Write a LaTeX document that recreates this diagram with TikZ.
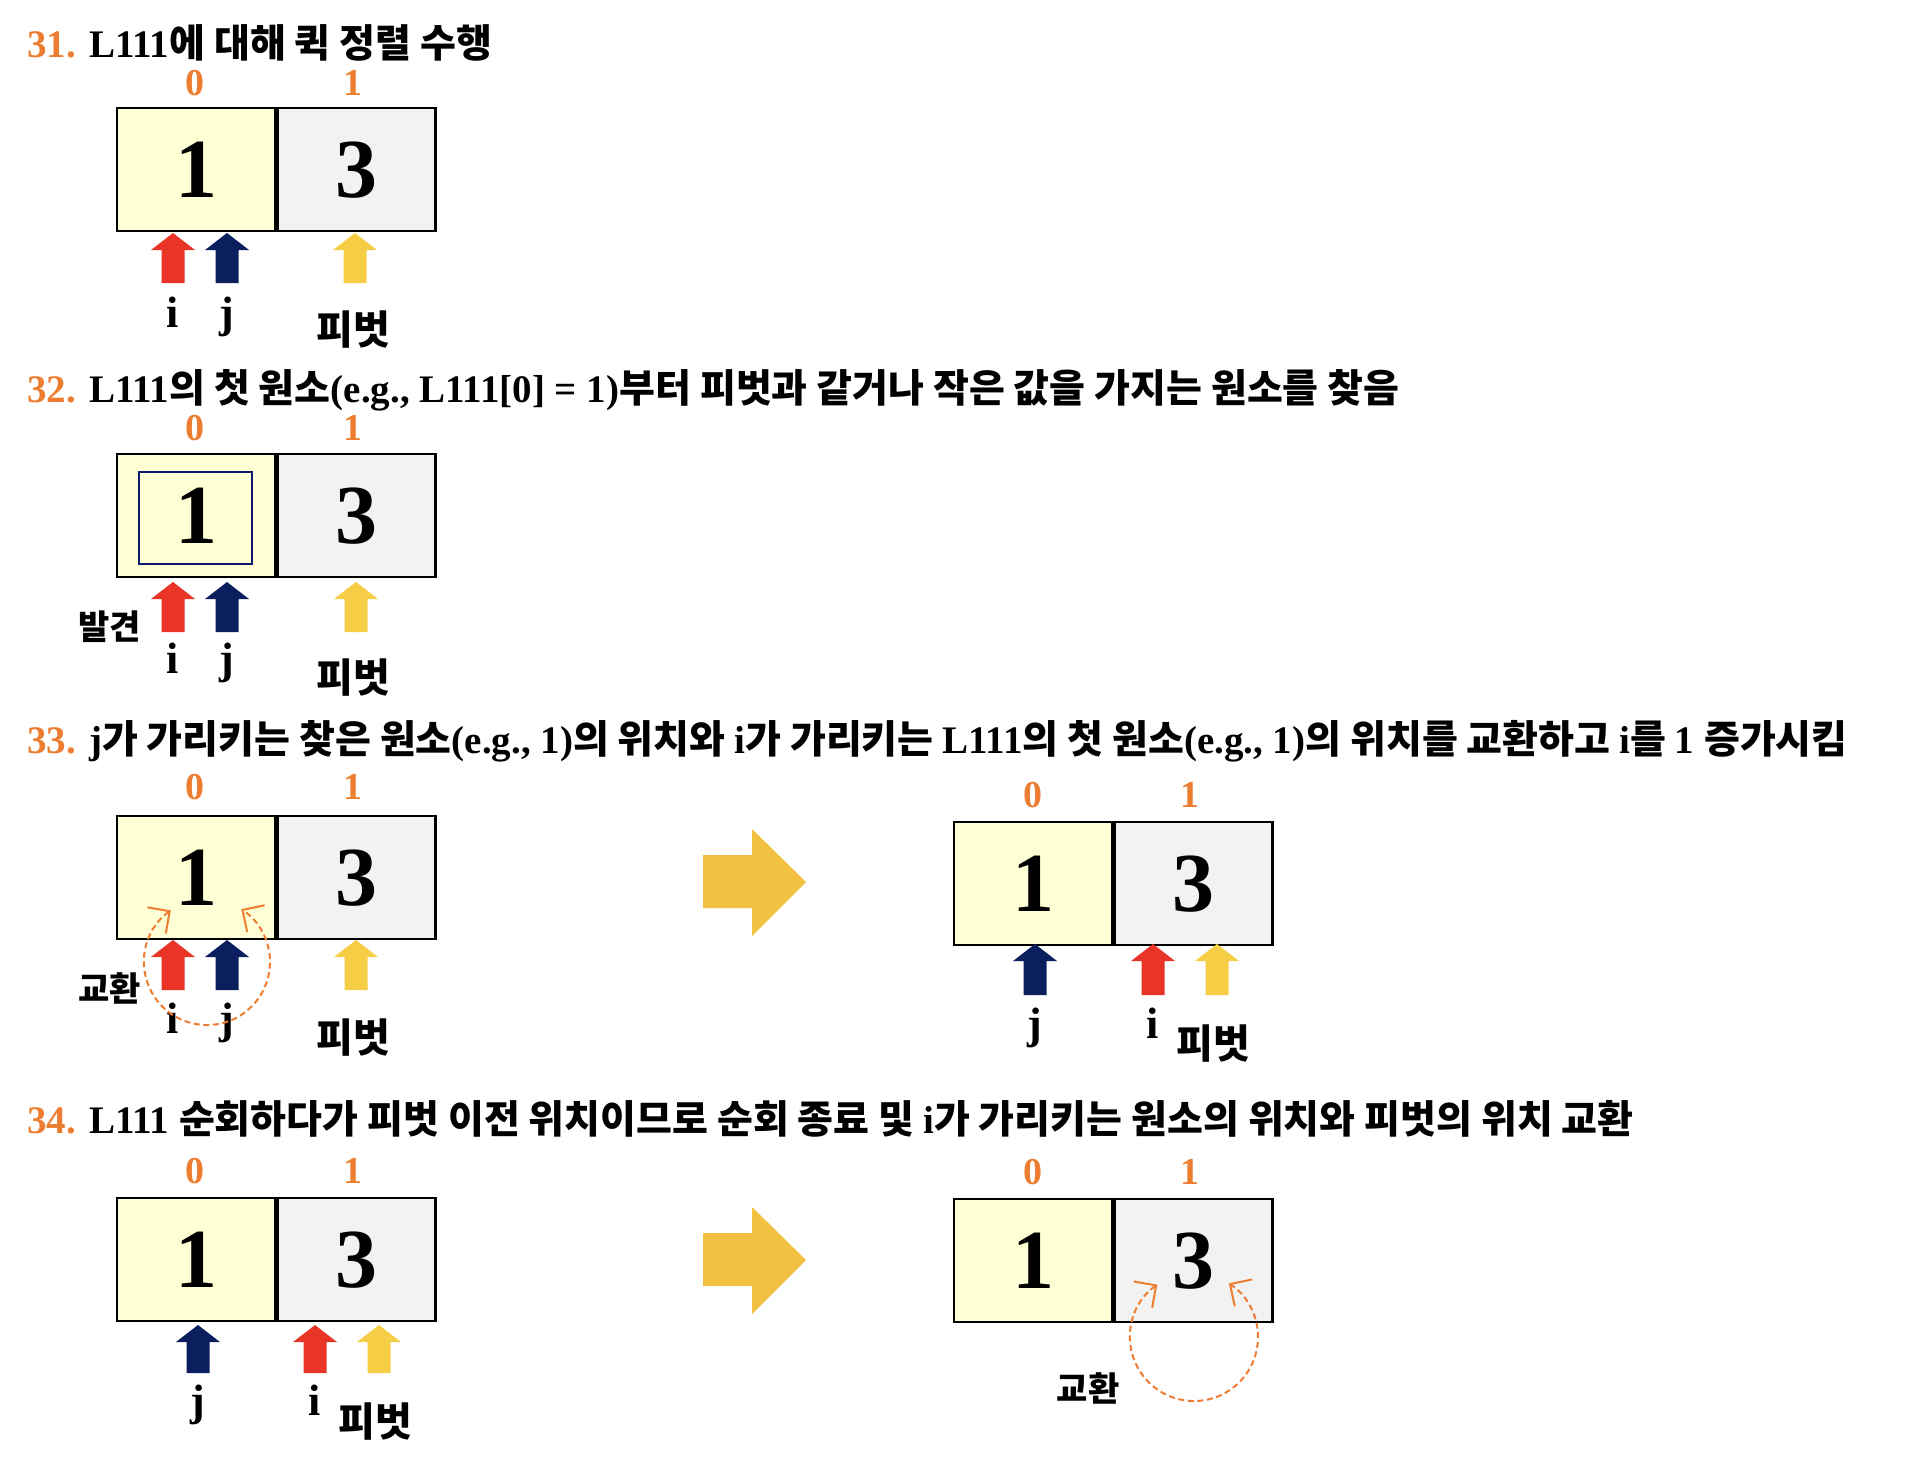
\documentclass[tikz,border=0pt]{standalone}
\usepackage{fontspec}
\setmainfont{Liberation Serif}
\newfontfamily\kr{Noto Sans CJK KR}
\usetikzlibrary{arrows.meta,calc}
\definecolor{orng}{HTML}{ED7D31}
\definecolor{cellyel}{HTML}{FFFFD6}
\definecolor{cellgray}{HTML}{F2F2F2}
\definecolor{ptrred}{HTML}{E83527}
\definecolor{ptrnavy}{HTML}{0B1F5E}
\definecolor{ptryel}{HTML}{F6CE46}
\definecolor{bigyel}{HTML}{F2C141}
\definecolor{boxnavy}{HTML}{0B1A6E}
\newcommand\K[1]{{\kr #1}}
\newcommand\UpArr[4]{\fill[#1] (#2,#3) -- (#2+22,#3+17) -- (#2+11.5,#3+17) -- (#2+11.5,#4) -- (#2-11.5,#4) -- (#2-11.5,#3+17) -- (#2-22,#3+17) -- cycle;}
\newcommand\BigArr[1]{\fill[bigyel] (703,#1-27) -- (752,#1-27) -- (752,#1-53) -- (806,#1) -- (752,#1+54) -- (752,#1+26) -- (703,#1+26) -- cycle;}
\tikzset{
  title/.style={anchor=base west, inner sep=0pt, font=\fontsize{19.5}{22}\selectfont\bfseries},
  cellY/.style={draw=black, line width=1.2pt, fill=cellyel, minimum width=79pt, minimum height=61.5pt, inner sep=0pt, font=\fontsize{42}{42}\selectfont\bfseries},
  cellG/.style={cellY, fill=cellgray},
  idx/.style={inner sep=0pt, text=orng, font=\fontsize{19}{19}\selectfont\bfseries},
  ptr/.style={anchor=base, inner sep=0pt, font=\fontsize{22}{22}\selectfont\bfseries},
  piv/.style={inner sep=0pt, font=\fontsize{20}{20}\selectfont\bfseries\kr},
  note/.style={inner sep=0pt, font=\fontsize{17}{17}\selectfont\bfseries\kr},
  swaparc/.style={draw=orng, line width=1pt, dash pattern=on 3pt off 1.8pt, {Straight Barb[length=8pt,width=16pt]}-{Straight Barb[length=8pt,width=16pt]}},
}
\begin{document}
\begin{tikzpicture}[x=0.5pt,y=-0.5pt]
\fill[white] (0,0) rectangle (1928,1464);
\useasboundingbox (0,0) rectangle (1928,1464);

% ---------- 31 ----------
\node[title] (t31) at (27,57) {\textcolor{orng}{31.} L111\K{에 대해 퀵 정렬 수행}};
\node[cellY, anchor=north west] (a31) at (116,107) {1};
\node[cellG, anchor=west] (b31) at (a31.east) {3};
\node[idx] (x31a) at (195,83) {0};
\node[idx] (x31b) at (353,83) {1};
\UpArr{ptrred}{173}{233}{283}
\UpArr{ptrnavy}{227}{233}{283}
\UpArr{ptryel}{355}{233}{283}
\node[ptr] (i31) at (173,327) {i};
\node[ptr] (j31) at (227,327) {j};
\node[piv] (p31) at (353,330) {피벗};

% ---------- 32 ----------
\node[title] (t32) at (27,402) {\textcolor{orng}{32.} L111\K{의 첫 원소}(e.g., L111[0] = 1)\K{부터 피벗과 같거나 작은 값을 가지는 원소를 찾음}};
\node[cellY, anchor=north west] (a32) at (116,453) {1};
\node[cellG, anchor=west] (b32) at (a32.east) {3};
\node[draw=boxnavy, line width=1.2pt, minimum width=56.5pt, minimum height=46pt, inner sep=0pt] (f32) at (195.5,518) {};
\node[idx] (x32a) at (195,428) {0};
\node[idx] (x32b) at (353,428) {1};
\UpArr{ptrred}{173}{582}{632}
\UpArr{ptrnavy}{227}{582}{632}
\UpArr{ptryel}{356}{582}{632}
\node[ptr] (i32) at (173,673) {i};
\node[ptr] (j32) at (227,673) {j};
\node[piv] (p32) at (353,678) {피벗};
\node[note] (n32) at (110,627) {발견};

% ---------- 33 ----------
\node[title] (t33) at (27,753) {\textcolor{orng}{33.} j\K{가 가리키는 찾은 원소}(e.g., 1)\K{의 위치와 }i\K{가 가리키는 }L111\K{의 첫 원소}(e.g., 1)\K{의 위치를 교환하고 }i\K{를 }1 \K{증가시킴}};
\node[cellY, anchor=north west] (a33) at (116,815) {1};
\node[cellG, anchor=west] (b33) at (a33.east) {3};
\node[idx] (x33a) at (195,787) {0};
\node[idx] (x33b) at (353,787) {1};
\UpArr{ptrred}{173}{940}{990}
\UpArr{ptrnavy}{227}{940}{990}
\UpArr{ptryel}{356}{940}{990}
\node[ptr] (i33) at (173,1033) {i};
\node[ptr] (j33) at (227,1033) {j};
\node[piv] (p33) at (353,1038) {피벗};
\node[note] (n33) at (110,988) {교환};
\coordinate (c33) at (207,962);
\draw[swaparc] ($(c33)+(235:63)$) arc[start angle=235, end angle=-57, radius=63];

\BigArr{882}

\node[cellY, anchor=north west] (a33r) at (953,821) {1};
\node[cellG, anchor=west] (b33r) at (a33r.east) {3};
\node[idx] (x33ra) at (1033,795) {0};
\node[idx] (x33rb) at (1190,795) {1};
\UpArr{ptrnavy}{1035}{944}{995}
\UpArr{ptrred}{1153}{944}{995}
\UpArr{ptryel}{1217}{944}{995}
\node[ptr] (j33r) at (1035,1038) {j};
\node[ptr] (i33r) at (1153,1038) {i};
\node[piv] (p33r) at (1213,1044) {피벗};

% ---------- 34 ----------
\node[title] (t34) at (27,1133) {\textcolor{orng}{34.} L111 \K{순회하다가 피벗 이전 위치이므로 순회 종료 및 }i\K{가 가리키는 원소의 위치와 피벗의 위치 교환}};
\node[cellY, anchor=north west] (a34) at (116,1197) {1};
\node[cellG, anchor=west] (b34) at (a34.east) {3};
\node[idx] (x34a) at (195,1171) {0};
\node[idx] (x34b) at (353,1171) {1};
\UpArr{ptrnavy}{198}{1325}{1373}
\UpArr{ptrred}{315}{1325}{1373}
\UpArr{ptryel}{379}{1325}{1373}
\node[ptr] (j34) at (198,1415) {j};
\node[ptr] (i34) at (315,1415) {i};
\node[piv] (p34) at (375,1422) {피벗};

\BigArr{1260}

\node[cellY, anchor=north west] (a34r) at (953,1198) {1};
\node[cellG, anchor=west] (b34r) at (a34r.east) {3};
\node[idx] (x34ra) at (1033,1172) {0};
\node[idx] (x34rb) at (1190,1172) {1};
\node[note] (n34r) at (1088,1388) {교환};
\coordinate (c34) at (1194,1337);
\draw[swaparc] ($(c34)+(235:64)$) arc[start angle=235, end angle=-57, radius=64];
\end{tikzpicture}
\end{document}
